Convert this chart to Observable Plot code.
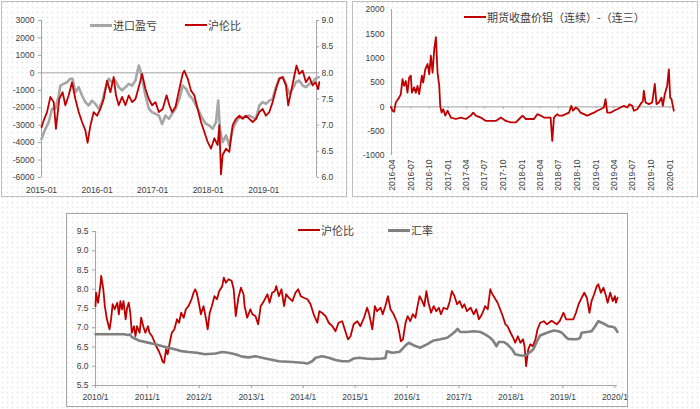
<!DOCTYPE html>
<html>
<head>
<meta charset="utf-8">
<script src="https://cdn.jsdelivr.net/npm/d3@7"></script>
<script src="https://cdn.jsdelivr.net/npm/@observablehq/plot@0.6"></script>
<style>
  html, body { margin: 0; padding: 0; background: #fff; }
  #page {
    position: relative; width: 700px; height: 409px; overflow: hidden;
    background-color: #fff;
    background-image: radial-gradient(circle, #e2e2e2 0.7px, rgba(255,255,255,0) 1.1px);
    background-size: 5px 5px;
    font-family: "Liberation Sans", Arial, sans-serif;
  }
  .box { position: absolute; box-sizing: border-box; border: 1px solid #bfbfbf; pointer-events: none; }
  .plot { position: absolute; }
  .leg { position: absolute; height: 16px; line-height: 16px; font-family: "Noto Sans CJK SC", sans-serif; font-size: 11px; color: #404040; white-space: nowrap; }
  .sw { position: absolute; }
</style>
</head>
<body>
<div id="page"></div>
<script>
// ---------- Chart 1: 进口盈亏 (left axis) & 沪伦比 (right axis), 2015-2019 ----------
const c1GrayT = [2015.00,2015.07,2015.13,2015.19,2015.25,2015.31,2015.34,2015.40,2015.46,2015.52,2015.56,2015.61,2015.67,2015.73,2015.79,2015.85,2015.91,2015.97,2016.03,2016.09,2016.15,2016.21,2016.27,2016.33,2016.39,2016.45,2016.51,2016.57,2016.63,2016.69,2016.75,2016.78,2016.82,2016.87,2016.93,2016.99,2017.05,2017.11,2017.17,2017.23,2017.29,2017.35,2017.41,2017.48,2017.54,2017.60,2017.66,2017.72,2017.78,2017.84,2017.90,2017.96,2018.02,2018.08,2018.14,2018.18,2018.21,2018.26,2018.32,2018.38,2018.44,2018.50,2018.56,2018.62,2018.74,2018.86,2018.92,2018.98,2019.04,2019.10,2019.16,2019.22,2019.28,2019.34,2019.40,2019.46,2019.52,2019.58,2019.64,2019.70,2019.76,2019.82,2019.88,2019.93,2019.99];
const c1GrayV = [-3790,-3210,-2830,-2060,-2060,-1300,-730,-630,-540,-340,-340,-1110,-820,-1300,-1680,-1870,-1590,-1780,-2060,-1680,-920,-340,-540,-440,-820,-1010,-820,-630,-730,-440,420,130,-540,-1300,-2060,-2260,-2350,-2450,-2930,-2450,-2640,-2350,-2060,-1490,-730,-920,-1300,-1490,-1870,-2260,-2640,-2930,-3020,-3210,-2830,-1590,-3210,-3980,-3590,-4170,-3210,-2830,-2540,-2540,-2450,-2640,-1870,-1680,-1780,-1590,-1490,-820,-340,-250,-630,-1210,-920,-540,-440,-730,-820,-630,-540,-340,-250];
const c1RatioT = [2015.00,2015.04,2015.10,2015.16,2015.22,2015.26,2015.32,2015.38,2015.43,2015.49,2015.55,2015.61,2015.67,2015.73,2015.79,2015.83,2015.88,2015.94,2016.00,2016.06,2016.12,2016.18,2016.24,2016.30,2016.34,2016.39,2016.45,2016.51,2016.57,2016.63,2016.69,2016.75,2016.81,2016.87,2016.93,2016.99,2017.05,2017.11,2017.18,2017.25,2017.30,2017.35,2017.41,2017.48,2017.54,2017.57,2017.63,2017.69,2017.75,2017.81,2017.87,2017.93,2017.99,2018.05,2018.11,2018.17,2018.20,2018.23,2018.26,2018.32,2018.38,2018.44,2018.50,2018.56,2018.62,2018.68,2018.74,2018.80,2018.86,2018.92,2018.98,2019.04,2019.10,2019.16,2019.22,2019.28,2019.34,2019.40,2019.44,2019.49,2019.55,2019.59,2019.64,2019.70,2019.76,2019.82,2019.88,2019.93,2019.98,2020.00];
const c1RatioV = [6.96,7.09,7.25,7.54,7.44,6.93,7.50,7.63,7.38,7.57,7.82,7.50,7.25,7.06,6.90,6.66,6.99,7.25,7.18,7.31,7.50,7.85,7.63,7.92,7.57,7.38,7.54,7.38,7.57,7.44,7.50,7.73,7.98,7.69,7.50,7.38,7.44,7.25,7.31,7.57,7.38,7.25,7.35,7.69,7.98,8.04,7.89,7.66,7.57,7.31,7.06,6.87,6.68,6.55,6.75,6.62,7.00,6.06,6.43,6.55,6.49,7.00,7.12,7.18,7.12,7.18,7.12,7.06,7.12,7.25,7.31,7.18,7.25,7.44,7.69,7.89,7.92,7.76,7.38,7.63,7.94,8.14,7.98,8.04,7.82,7.92,7.76,7.82,7.69,7.82];
const c1LeftTicks = [-6000,-5000,-4000,-3000,-2000,-1000,0,1000,2000,3000];
const c1RightTicks = [6.0,6.5,7.0,7.5,8.0,8.5,9.0];
const c1XTicks = [2015,2016,2017,2018,2019];

// ---------- Chart 2: 期货收盘价铝（连续）-（连三）, 2016-04 .. 2020-01 ----------
const c2T = [2016.228,2016.25,2016.272,2016.295,2016.34,2016.3625,2016.385,2016.4075,2016.43,2016.4525,2016.475,2016.4975,2016.512,2016.5425,2016.565,2016.5875,2016.61,2016.647,2016.664,2016.692,2016.723,2016.746,2016.768,2016.791,2016.813,2016.836,2016.858,2016.881,2016.894,2016.9125,2016.935,2016.962,2016.993,2017.038,2017.106,2017.173,2017.241,2017.308,2017.34,2017.376,2017.443,2017.512,2017.579,2017.647,2017.714,2017.782,2017.849,2017.917,2017.962,2018.007,2018.052,2018.095,2018.1625,2018.2075,2018.2525,2018.2975,2018.3425,2018.3875,2018.41,2018.4325,2018.478,2018.501,2018.546,2018.591,2018.636,2018.6675,2018.69,2018.726,2018.762,2018.793,2018.838,2018.883,2018.928,2018.973,2019.018,2019.063,2019.108,2019.131,2019.153,2019.198,2019.243,2019.288,2019.333,2019.379,2019.424,2019.455,2019.492,2019.514,2019.559,2019.604,2019.636,2019.649,2019.672,2019.717,2019.762,2019.7975,2019.82,2019.852,2019.8875,2019.906,2019.9325,2019.964,2019.987,2020.005,2020.023,2020.041,2020.054];
const c2V = [0,-80,-100,90,190,260,570,430,530,290,600,640,290,400,290,430,260,640,500,770,880,670,1050,700,1180,1430,700,430,20,-120,-50,-180,-80,-220,-250,-220,-250,-180,-120,-180,-220,-290,-290,-290,-220,-290,-320,-320,-250,-180,-250,-250,-250,-150,-180,-220,-220,-220,-700,-220,-150,-180,-180,-150,-120,20,-80,-15,-50,-120,-150,-180,-150,-120,-80,-50,-15,160,-120,-120,-80,-50,-15,20,-15,55,20,-80,-50,55,120,330,90,55,90,470,55,90,190,20,260,430,770,190,160,20,-80];
const c2YTicks = [-1000,-500,0,500,1000,1500,2000];
const c2XTicks = ["2016-04","2016-07","2016-10","2017-01","2017-04","2017-07","2017-10","2018-01","2018-04","2018-07","2018-10","2019-01","2019-04","2019-07","2019-10","2020-01"];

// ---------- Chart 3: 沪伦比 & 汇率, 2010-2020 ----------
const c3RatioT = [2010.00,2010.01,2010.05,2010.10,2010.11,2010.15,2010.18,2010.22,2010.27,2010.30,2010.33,2010.37,2010.42,2010.45,2010.48,2010.51,2010.54,2010.58,2010.61,2010.64,2010.67,2010.70,2010.74,2010.77,2010.80,2010.85,2010.88,2010.92,2010.96,2011.01,2011.04,2011.09,2011.13,2011.17,2011.22,2011.26,2011.29,2011.32,2011.36,2011.39,2011.43,2011.47,2011.52,2011.57,2011.61,2011.65,2011.70,2011.74,2011.79,2011.85,2011.89,2011.92,2011.95,2011.99,2012.03,2012.08,2012.13,2012.16,2012.20,2012.24,2012.29,2012.34,2012.38,2012.44,2012.47,2012.51,2012.56,2012.62,2012.66,2012.70,2012.75,2012.80,2012.85,2012.87,2012.92,2012.98,2013.02,2013.08,2013.13,2013.18,2013.24,2013.31,2013.35,2013.40,2013.45,2013.48,2013.53,2013.58,2013.63,2013.67,2013.72,2013.79,2013.85,2013.90,2013.95,2014.01,2014.08,2014.14,2014.20,2014.27,2014.31,2014.36,2014.43,2014.49,2014.56,2014.62,2014.68,2014.75,2014.81,2014.86,2014.91,2014.97,2015.04,2015.10,2015.17,2015.23,2015.27,2015.33,2015.38,2015.42,2015.49,2015.53,2015.58,2015.63,2015.68,2015.74,2015.81,2015.85,2015.88,2015.92,2015.97,2016.01,2016.06,2016.11,2016.16,2016.20,2016.24,2016.29,2016.33,2016.37,2016.41,2016.46,2016.51,2016.56,2016.61,2016.65,2016.70,2016.77,2016.82,2016.86,2016.91,2016.96,2017.01,2017.06,2017.10,2017.15,2017.22,2017.28,2017.33,2017.38,2017.44,2017.50,2017.55,2017.60,2017.64,2017.70,2017.74,2017.79,2017.84,2017.89,2017.93,2017.99,2018.04,2018.08,2018.13,2018.18,2018.23,2018.26,2018.29,2018.33,2018.37,2018.42,2018.47,2018.51,2018.56,2018.63,2018.69,2018.78,2018.88,2018.94,2019.01,2019.06,2019.14,2019.20,2019.25,2019.30,2019.36,2019.41,2019.46,2019.51,2019.55,2019.60,2019.65,2019.68,2019.73,2019.78,2019.83,2019.86,2019.91,2019.96,2020.00,2020.02,2020.05];
const c3RatioV = [7.56,7.91,7.65,8.17,8.35,8.00,7.56,7.22,6.96,7.22,7.61,7.48,7.65,7.35,7.69,7.48,7.69,7.22,7.52,7.65,7.39,6.87,7.04,6.78,7.04,6.87,7.26,7.04,6.87,7.04,6.87,6.78,6.65,6.52,6.39,6.26,6.13,6.09,6.44,6.31,6.61,6.87,6.96,7.22,7.13,7.39,7.26,7.48,7.56,7.74,7.91,8.00,7.91,7.65,7.35,7.56,7.22,6.96,7.39,7.56,7.82,7.74,7.95,8.08,8.30,8.17,8.26,8.22,8.00,7.30,7.78,8.04,7.87,7.56,7.26,7.48,7.35,7.30,7.09,7.56,7.69,7.87,7.65,7.91,7.95,8.08,7.82,8.00,7.56,7.87,7.78,7.69,7.91,8.00,7.82,7.78,7.74,7.61,7.35,7.13,7.43,7.39,7.30,7.13,7.04,6.91,7.13,7.17,6.91,6.70,6.78,7.09,7.17,7.04,7.26,7.52,7.35,6.96,7.56,7.43,7.52,7.35,7.56,7.82,7.48,7.35,7.13,6.87,6.65,6.70,7.13,7.30,7.17,7.35,7.26,7.56,7.82,7.69,7.56,7.95,7.65,7.39,7.56,7.43,7.52,7.35,7.52,7.48,7.69,7.95,7.82,7.61,7.69,7.52,7.61,7.43,7.52,7.35,7.48,7.22,7.35,7.56,7.48,8.00,7.87,7.74,7.65,7.48,7.30,7.09,7.04,6.87,6.74,6.61,6.78,6.61,6.70,6.52,6.00,6.43,6.57,6.52,6.70,6.96,7.13,7.17,7.09,7.18,7.09,7.18,7.39,7.22,7.22,7.22,7.39,7.61,7.78,7.91,7.78,7.39,7.69,7.87,8.08,8.13,7.91,8.04,7.82,7.65,7.91,7.69,7.82,7.65,7.78];
const c3FxT = [2010.00,2010.30,2010.55,2010.63,2010.66,2010.70,2010.83,2010.99,2011.15,2011.31,2011.47,2011.63,2011.79,2011.95,2012.11,2012.31,2012.44,2012.56,2012.69,2012.82,2012.95,2013.08,2013.27,2013.53,2013.79,2013.98,2014.08,2014.17,2014.24,2014.36,2014.49,2014.62,2014.75,2014.88,2014.97,2015.07,2015.20,2015.33,2015.52,2015.58,2015.61,2015.71,2015.84,2015.87,2015.97,2016.03,2016.13,2016.25,2016.38,2016.51,2016.64,2016.77,2016.86,2016.93,2016.97,2017.02,2017.15,2017.28,2017.41,2017.50,2017.60,2017.66,2017.72,2017.76,2017.86,2017.93,2018.02,2018.08,2018.18,2018.27,2018.37,2018.43,2018.50,2018.56,2018.69,2018.82,2018.91,2018.98,2019.04,2019.10,2019.17,2019.27,2019.33,2019.36,2019.46,2019.55,2019.62,2019.68,2019.75,2019.81,2019.87,2019.94,2020.00,2020.05];
const c3FxV = [6.83,6.83,6.83,6.81,6.83,6.76,6.67,6.62,6.57,6.51,6.46,6.40,6.37,6.35,6.31,6.33,6.37,6.35,6.31,6.25,6.23,6.26,6.20,6.13,6.11,6.09,6.07,6.13,6.22,6.26,6.22,6.16,6.13,6.13,6.20,6.22,6.20,6.19,6.20,6.21,6.39,6.35,6.37,6.39,6.54,6.61,6.54,6.48,6.57,6.67,6.70,6.74,6.83,6.91,6.97,6.89,6.89,6.91,6.89,6.83,6.74,6.65,6.52,6.63,6.63,6.57,6.44,6.31,6.28,6.28,6.37,6.44,6.65,6.80,6.87,6.93,6.91,6.87,6.78,6.71,6.70,6.70,6.74,6.87,6.89,6.91,7.04,7.17,7.13,7.09,7.04,7.03,7.00,6.89];
const c3YTicks = [5.5,6.0,6.5,7.0,7.5,8.0,8.5,9.0,9.5];
const c3XTicks = [2010,2011,2012,2013,2014,2015,2016,2017,2018,2019,2020];

// ---------- helpers ----------
function dy(t) {
  const y = Math.floor(t);
  const a = Date.UTC(y, 0, 1), b = Date.UTC(y + 1, 0, 1);
  return new Date(a + (t - y) * (b - a));
}
const zip = (T, V) => T.map((t, i) => ({date: dy(t), value: V[i]}));
const page = document.getElementById("page");
const TXT = "#404040", AX = "#a6a6a6";
const baseStyle = {background: "transparent", fontFamily: "'Liberation Sans', Arial, sans-serif", fontSize: "8.5px", color: TXT, overflow: "visible"};

function place(el, x, y) { el.classList.add("plot"); el.style.left = x + "px"; el.style.top = y + "px"; page.appendChild(el); }
function box(x, y, w, h, color) { const d = document.createElement("div"); d.className = "box"; Object.assign(d.style, {left: x + "px", top: y + "px", width: w + "px", height: h + "px", borderColor: color}); page.appendChild(d); }
function legend(x, y, color, thick, text) {
  const s = document.createElement("div"); s.className = "sw";
  Object.assign(s.style, {left: x + "px", top: (y - thick / 2) + "px", width: "22px", height: thick + "px", background: color});
  page.appendChild(s);
  const t = document.createElement("div"); t.className = "leg"; t.textContent = text;
  Object.assign(t.style, {left: (x + 23) + "px", top: (y - 8) + "px"});
  page.appendChild(t);
}

// ---------- Chart 1 ----------
const c1Gray = zip(c1GrayT, c1GrayV);
const c1Ratio = zip(c1RatioT, c1RatioV);
const c1 = Plot.plot({
  width: 346, height: 196,
  marginLeft: 40, marginRight: 31, marginTop: 19, marginBottom: 20,
  style: baseStyle,
  x: {type: "utc", domain: [dy(2015.0), dy(2019.95)], axis: null, label: null},
  y: {domain: [-6000, 3000], axis: null, label: null},
  marks: [
    Plot.ruleY([0], {stroke: AX, strokeWidth: 1}),
    Plot.ruleX([dy(2015.0), dy(2019.95)], {stroke: AX, strokeWidth: 1}),
    Plot.axisY({ticks: c1LeftTicks, label: null, tickSize: 3, tickPadding: 4, stroke: AX, fill: TXT, tickFormat: d => String(d)}),
    Plot.axisY({anchor: "right", label: null, ticks: c1RightTicks.map(r => (r - 8) * 3000), tickSize: 2, tickPadding: 3, stroke: AX, fill: TXT, tickFormat: d => (8 + d / 3000).toFixed(1)}),
    Plot.axisX({ticks: c1XTicks.map(dy), label: null, tickSize: 0, tickPadding: 9, fill: TXT, tickFormat: d3.utcFormat("%Y-%m")}),
    Plot.line(c1Gray, {x: "date", y: "value", stroke: "#a6a6a6", strokeWidth: 2.6}),
    Plot.line(c1Ratio, {x: "date", y: d => (d.value - 8) * 3000, stroke: "#c00000", strokeWidth: 1.8})
  ]
});
place(c1, 1, 1);
box(1, 1, 346, 196, "#bfbfbf");
legend(90, 25, "#a6a6a6", 3, "进口盈亏");
legend(185, 25, "#c00000", 2.5, "沪伦比");

// ---------- Chart 2 ----------
const c2 = zip(c2T, c2V);
const c2Start = dy(2016.25 - 0.16 / 12), c2End = dy(2016.25 + 45.6 / 12);
const c2TickDates = c2XTicks.map(s => new Date(s + "-01T00:00:00Z"));
const c2Plot = Plot.plot({
  width: 346, height: 196,
  marginLeft: 39, marginRight: 25, marginTop: 8, marginBottom: 42,
  style: baseStyle,
  x: {type: "utc", domain: [c2Start, c2End], axis: null, label: null},
  y: {domain: [-1000, 2000], axis: null, label: null},
  marks: [
    Plot.ruleX([c2Start], {stroke: AX, strokeWidth: 1}),
    Plot.ruleY([0], {stroke: AX, strokeWidth: 1}),
    Plot.ruleX(c2TickDates, {y1: 0, y2: -45, stroke: AX, strokeWidth: 1}),
    Plot.axisY({ticks: c2YTicks, label: null, tickSize: 0, tickPadding: 7, fill: TXT, tickFormat: d => String(d)}),
    Plot.axisX({ticks: c2TickDates, label: null, tickSize: 0, tickPadding: 4, tickRotate: -90, fill: TXT, tickFormat: d3.utcFormat("%Y-%m")}),
    Plot.line(c2, {x: "date", y: "value", stroke: "#c00000", strokeWidth: 1.8})
  ]
});
place(c2Plot, 352, 1);
box(352, 1, 346, 196, "#bfbfbf");
legend(464, 17, "#c00000", 2.5, "期货收盘价铝（连续）-（连三）");

// ---------- Chart 3 ----------
const c3Ratio = zip(c3RatioT, c3RatioV);
const c3Fx = zip(c3FxT, c3FxV);
const c3 = Plot.plot({
  width: 562, height: 194,
  marginLeft: 29, marginRight: 11, marginTop: 18, marginBottom: 22,
  style: baseStyle,
  x: {type: "utc", domain: [dy(2010.0), dy(2020.05)], axis: null, label: null},
  y: {domain: [5.5, 9.5], axis: null, label: null},
  marks: [
    Plot.ruleX([dy(2010.0)], {stroke: AX, strokeWidth: 1}),
    Plot.ruleY([5.5], {stroke: AX, strokeWidth: 1}),
    Plot.axisY({ticks: c3YTicks, label: null, tickSize: 3, tickPadding: 4, stroke: AX, fill: TXT, tickFormat: d => d.toFixed(1)}),
    Plot.axisX({ticks: c3XTicks.map(dy), label: null, tickSize: 3, tickPadding: 5, stroke: AX, fill: TXT, tickFormat: d3.utcFormat("%Y/%-m")}),
    Plot.line(c3Ratio, {x: "date", y: "value", stroke: "#c00000", strokeWidth: 1.8}),
    Plot.line(c3Fx, {x: "date", y: "value", stroke: "#808080", strokeWidth: 2.6})
  ]
});
place(c3, 66, 213);
box(66, 213, 562, 194, "#a6a6a6");
legend(298, 230, "#c00000", 2.5, "沪伦比");
legend(388, 230, "#808080", 3, "汇率");
</script>
</body>
</html>
